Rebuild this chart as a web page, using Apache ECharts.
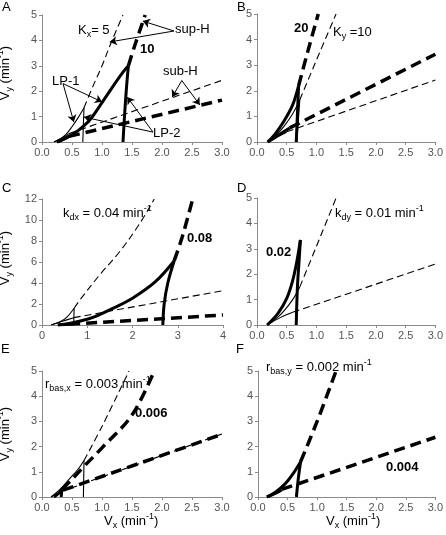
<!DOCTYPE html>
<html><head><meta charset="utf-8">
<script src="https://cdn.jsdelivr.net/npm/echarts@6/dist/echarts.min.js"></script>
<style>html,body{margin:0;padding:0;background:#fff}#c{width:446px;height:535px}</style>
</head><body><div id="c"></div>
<script>
// ---- tick labels ----
const xTicks3 = [0, 0.5, 1, 1.5, 2, 2.5, 3];
const xTicks4 = [0, 1, 2, 3, 4];
const yTicks5 = [0, 1, 2, 3, 4, 5];
const yTicks12 = [0, 2, 4, 6, 8, 10, 12];

// ---- Panel A (Kx = 5 thin, 10 thick) ----
const A_thin_up = [[0.2,0],[0.3,0.12],[0.4,0.3],[0.5,0.6],[0.6,0.95],[0.7,1.35]];
const A_thin_up_dash = [[0.7,1.35],[0.85,2.2],[1.0,3.0],[1.15,3.9],[1.35,5.0]];
const A_thin_low = [[0.2,0],[0.35,0.18],[0.45,0.33]];
const A_thin_low_dash = [[0.45,0.33],[3,2.43]];
const A_thin_vert = [[0.68,0],[0.69,0.7],[0.7,1.35]];
const A_thick_up = [[0.25,0],[0.4,0.15],[0.6,0.45],[0.8,0.88],[1.0,1.55],[1.2,2.25],[1.35,2.75],[1.44,3.0]];
const A_thick_up_dash = [[1.44,3.0],[1.56,3.9],[1.72,5.0]];
const A_thick_low = [[0.25,0],[0.35,0.1],[0.45,0.22]];
const A_thick_low_dash = [[0.45,0.22],[3,1.65]];
const A_thick_vert = [[1.35,0],[1.38,1.2],[1.41,2.2],[1.44,3.0]];
const A_arrows = [
  [[2.2,4.37],[1.68,4.76]], [[2.2,4.37],[1.13,3.94]],
  [[0.35,2.3],[0.53,0.79]], [[0.35,2.3],[1.0,1.58]],
  [[2.33,2.42],[2.17,1.77]], [[2.33,2.42],[2.63,1.46]],
  [[1.85,0.39],[0.7,0.98]], [[1.85,0.39],[1.42,1.77]]
];

// ---- Panel B (Ky = 10 thin, 20 thick) ----
const B_thin_up = [[0.18,0],[0.3,0.22],[0.45,0.6],[0.6,1.1],[0.72,1.65]];
const B_thin_up_dash = [[0.72,1.65],[1.0,3.2],[1.33,5.0]];
const B_thin_low = [[0.18,0],[0.35,0.2],[0.5,0.38]];
const B_thin_low_dash = [[0.5,0.4],[3,2.42]];
const B_thin_vert = [[0.67,0],[0.72,1.65]];
const B_thick_up = [[0.18,0],[0.3,0.3],[0.45,0.8],[0.6,1.45],[0.7,2.2]];
const B_thick_up_dash = [[0.7,2.2],[0.85,3.5],[1.03,5.0]];
const B_thick_low = [[0.18,0],[0.35,0.25],[0.55,0.55]];
const B_thick_low_dash = [[0.55,0.55],[3,3.43]];
const B_thick_vert = [[0.66,0],[0.68,1.1],[0.7,2.2]];

// ---- Panel C (kdx = 0.04 thin, 0.08 thick) ----
const C_thin_up = [[0.2,0],[0.4,0.3],[0.55,0.75],[0.71,1.6]];
const C_thin_up_dash = [[0.71,1.6],[0.84,2.4],[1.28,4.8],[1.72,7.0],[2.15,9.6],[2.48,12]];
const C_thin_low = [[0.2,0],[0.45,0.35],[0.7,0.7]];
const C_thin_low_dash = [[0.7,0.7],[4,3.27]];
const C_thin_vert = [[0.7,0],[0.71,1.6]];
const C_thick_up = [[0.35,0],[0.6,0.15],[1.0,0.55],[1.25,0.95],[1.6,1.65],[2.0,2.55],[2.5,4.1],[2.92,6.1]];
const C_thick_up_dash = [[2.92,6.1],[3.1,8.4],[3.33,12]];
const C_thick_low = [[0.35,0],[0.6,0.07]];
const C_thick_low_dash = [[0.6,0.07],[4,0.95]];
const C_thick_vert = [[2.67,0],[2.7,2],[2.78,4],[2.92,6.1]];

// ---- Panel D (kdy = 0.01 thin, 0.02 thick) ----
const D_thin_up = [[0.17,0],[0.3,0.2],[0.45,0.55],[0.6,1.0],[0.72,1.5]];
const D_thin_up_dash = [[0.72,1.5],[1.0,3.1],[1.33,5.0]];
const D_thin_low = [[0.17,0],[0.4,0.3],[0.6,0.5]];
const D_thin_low_dash = [[0.6,0.5],[3,2.4]];
const D_thick_up = [[0.17,0],[0.35,0.45],[0.5,1.05],[0.6,1.75],[0.67,2.5],[0.73,3.35]];
const D_thick_vert = [[0.66,0],[0.68,1.5],[0.71,2.6],[0.73,3.35]];

// ---- Panel E (rbas,x = 0.003 thin, 0.006 thick) ----
const E_thin_up = [[0.15,0],[0.3,0.3],[0.45,0.7],[0.6,1.1],[0.7,1.45]];
const E_thin_up_dash = [[0.7,1.45],[1.0,2.8],[1.45,5.0]];
const E_thin_vert = [[0.69,0],[0.7,1.45]];
const E_thin_low = [[0.15,0],[0.3,0.2]];
const E_thin_low_dash = [[0.3,0.2],[3,2.5]];
const E_thick_up = [[0.2,0],[0.28,0.15],[0.33,0.3]];
const E_thick_up_dash = [[0.33,0.3],[0.5,0.7],[0.69,1.19],[1.0,1.95],[1.5,3.25],[1.87,5.0]];
const E_thick_vert = [[0.32,0],[0.33,0.3]];
const E_thick_low_dash = [[0.35,0.27],[3,2.49]];

// ---- Panel F (rbas,y = 0.002 thin, 0.004 thick) ----
const F_thick_up = [[0.15,0],[0.3,0.2],[0.45,0.5],[0.6,0.95],[0.72,1.4]];
const F_thick_up_dash = [[0.72,1.4],[1.0,3.0],[1.32,5.0]];
const F_thick_vert = [[0.65,0],[0.68,0.7],[0.72,1.4]];
const F_thick_low = [[0.15,0],[0.3,0.15],[0.4,0.28]];
const F_thick_low_dash = [[0.4,0.3],[3,2.37]];

// ---------------- build ----------------
const FONT = 'Liberation Sans, Arial, sans-serif';
const grids = [
  {left:42, top:15, width:180, height:127},
  {left:257, top:14, width:181, height:128},
  {left:42, top:199, width:181, height:126},
  {left:257, top:198, width:181, height:127},
  {left:42, top:371, width:180, height:126},
  {left:258, top:371, width:180, height:126}
];
const panelX = [xTicks3, xTicks3, xTicks4, xTicks3, xTicks3, xTicks3];
const panelY = [yTicks5, yTicks5, yTicks12, yTicks5, yTicks5, yTicks5];
const axisCommon = {
  axisLine:{show:true, onZero:false, lineStyle:{color:'#8a8a8a', width:1}},
  axisTick:{show:true, inside:false, length:3, lineStyle:{color:'#8a8a8a'}},
  splitLine:{show:false},
  axisLabel:{color:'#555', fontSize:11, fontFamily:FONT, margin:5}
};
const xAxes = panelX.map((t,i)=>Object.assign({}, axisCommon, {
  type:'value', gridIndex:i, min:t[0], max:t[t.length-1], interval:t[1]-t[0],
  axisLabel:Object.assign({}, axisCommon.axisLabel, {formatter: v => (t[1]-t[0] < 1 ? v.toFixed(1) : String(v))})
}));
const yAxes = panelY.map((t,i)=>Object.assign({}, axisCommon, {
  type:'value', gridIndex:i, min:t[0], max:t[t.length-1], interval:t[1]-t[0]
}));

const thinSolid = {color:'#000', width:1.1, type:'solid'};
const thickSolid = {color:'#000', width:3, type:'solid'};
const thinDash = {color:'#000', width:1.1, type:[7,4]};
const thickDash = {color:'#000', width:3.5, type:[11,6]};

const series = [];
function L(p, data, style, smooth, extra){
  series.push(Object.assign({
    type:'line', xAxisIndex:p, yAxisIndex:p, data:data, showSymbol:false, symbol:'none',
    smooth: smooth ? 0.35 : false, lineStyle:style, silent:true, z:3
  }, extra||{}));
}
// A
L(0, A_thin_up, thinSolid, true);
L(0, A_thin_up_dash, thinDash, true);
L(0, A_thin_low, thinSolid, true);
L(0, A_thin_low_dash, thinDash, false, {
  markLine:{silent:true, symbol:['none','arrow'], symbolSize:7, animation:false,
    lineStyle:{color:'#000', width:1, type:'solid'}, label:{show:false},
    data: A_arrows.map(a => [{coord:a[0]}, {coord:a[1]}])}
});
L(0, A_thin_vert, thinSolid, true);
L(0, A_thick_up, thickSolid, true);
L(0, A_thick_up_dash, thickDash, true);
L(0, A_thick_low, thickSolid, true);
L(0, A_thick_low_dash, thickDash, false);
L(0, A_thick_vert, thickSolid, true);
// B
L(1, B_thin_up, thinSolid, true);
L(1, B_thin_up_dash, thinDash, true);
L(1, B_thin_low, thinSolid, true);
L(1, B_thin_low_dash, thinDash, false);
L(1, B_thin_vert, thinSolid, false);
L(1, B_thick_up, thickSolid, true);
L(1, B_thick_up_dash, thickDash, true);
L(1, B_thick_low, thickSolid, true);
L(1, B_thick_low_dash, thickDash, false);
L(1, B_thick_vert, thickSolid, true);
// C
L(2, C_thin_up, thinSolid, true);
L(2, C_thin_up_dash, thinDash, true);
L(2, C_thin_low, thinSolid, true);
L(2, C_thin_low_dash, thinDash, false);
L(2, C_thin_vert, thinSolid, false);
L(2, C_thick_up, thickSolid, true);
L(2, C_thick_up_dash, thickDash, true);
L(2, C_thick_low, thickSolid, true);
L(2, C_thick_low_dash, thickDash, false);
L(2, C_thick_vert, thickSolid, true);
// D
L(3, D_thin_up, thinSolid, true);
L(3, D_thin_up_dash, thinDash, true);
L(3, D_thin_low, thinSolid, true);
L(3, D_thin_low_dash, thinDash, false);
L(3, D_thick_up, thickSolid, true);
L(3, D_thick_vert, thickSolid, true);
// E
L(4, E_thin_up, thinSolid, true);
L(4, E_thin_up_dash, thinDash, true);
L(4, E_thin_vert, thinSolid, false);
L(4, E_thin_low, thinSolid, true);
L(4, E_thin_low_dash, thinDash, false);
L(4, E_thick_up, thickSolid, true);
L(4, E_thick_up_dash, thickDash, true);
L(4, E_thick_vert, thickSolid, false);
L(4, E_thick_low_dash, thickDash, false);
// F
L(5, F_thick_up, thickSolid, true);
L(5, F_thick_up_dash, thickDash, true);
L(5, F_thick_vert, thickSolid, true);
L(5, F_thick_low, thickSolid, true);
L(5, F_thick_low_dash, thickDash, false);

// ---- text annotations ----
const rich = {
  m:{fontSize:13, fontFamily:FONT, color:'#000', lineHeight:18, verticalAlign:'middle'},
  b:{fontSize:13, fontFamily:FONT, color:'#000', fontWeight:'bold', lineHeight:18, verticalAlign:'middle'},
  s:{fontSize:9, fontFamily:FONT, color:'#000', lineHeight:9, verticalAlign:'bottom'},
  p:{fontSize:9, fontFamily:FONT, color:'#000', lineHeight:9, verticalAlign:'top'}
};
function T(x, y, text, rot){
  const g = {type:'text', left:x, top:y, silent:true, z:10, style:{text:text, rich:rich}};
  if (rot) { g.left = undefined; g.top = undefined; g.x = x; g.y = y; g.rotation = rot; g.style.align='center'; g.style.verticalAlign='middle'; }
  return g;
}
const graphics = [
  T(2, 1, '{m|A}'), T(237, 1, '{m|B}'), T(2, 182, '{m|C}'), T(237, 182, '{m|D}'),
  T(1, 343, '{m|E}'), T(236, 343, '{m|F}'),
  T(5, 73, '{m|V}{s|y}{m| (min}{p|-1}{m|)}', Math.PI/2),
  T(5, 258, '{m|V}{s|y}{m| (min}{p|-1}{m|)}', Math.PI/2),
  T(5, 434, '{m|V}{s|y}{m| (min}{p|-1}{m|)}', Math.PI/2),
  T(104, 512, '{m|V}{s|x}{m| (min}{p|-1}{m|)}'),
  T(326, 512, '{m|V}{s|x}{m| (min}{p|-1}{m|)}'),
  // A
  T(78, 24, '{m|K}{s|x}{m|= 5}'), T(175, 23, '{m|sup-H}'), T(140, 43, '{b|10}'),
  T(52, 75, '{m|LP-1}'), T(163, 65, '{m|sub-H}'), T(153, 127, '{m|LP-2}'),
  // B
  T(294, 22, '{b|20}'), T(333, 26, '{m|K}{s|y}{m| =10}'),
  // C
  T(63, 204, '{m|k}{s|dx}{m| = 0.04 min}{p|-1}'), T(187, 232, '{b|0.08}'),
  // D
  T(335, 204, '{m|k}{s|dy}{m| = 0.01 min}{p|-1}'), T(266, 246, '{b|0.02}'),
  // E
  T(45, 375, '{m|r}{s|bas,x}{m| = 0.003 min}{p|-1}'), T(135, 407, '{b|0.006}'),
  // F
  T(266, 358, '{m|r}{s|bas,y}{m| = 0.002 min}{p|-1}'), T(386, 461, '{b|0.004}')
];

const chart = echarts.init(document.getElementById('c'), null, {renderer:'canvas'});
chart.setOption({
  animation:false,
  backgroundColor:'#fff',
  grid:grids, xAxis:xAxes, yAxis:yAxes, series:series, graphic:graphics
});
</script></body></html>
